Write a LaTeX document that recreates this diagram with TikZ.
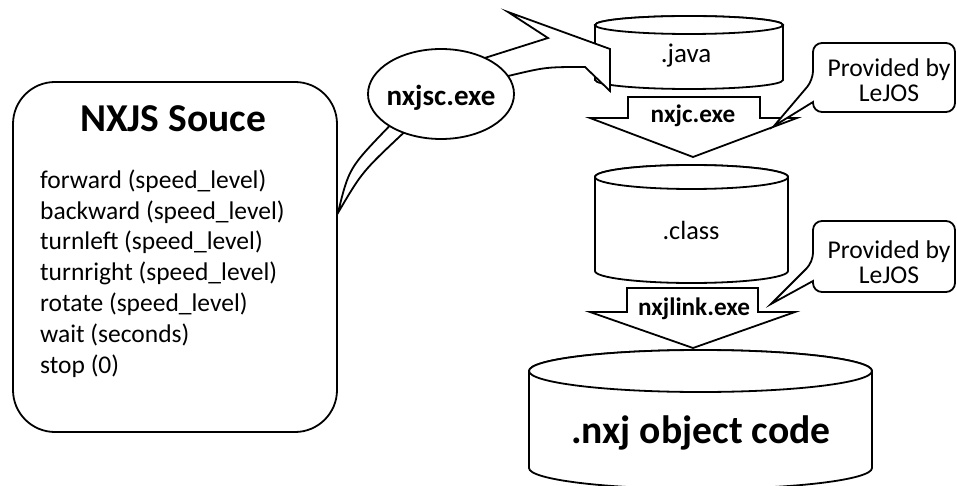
\documentclass[tikz,border=0pt]{standalone}
\usepackage{fontspec}
\setmainfont{Carlito}
\usetikzlibrary{shapes.geometric}
\pgfdeclarelayer{under}
\pgfsetlayers{under,main}

% cylinder: centre x, half width, top y, bottom y, rim radius
\newcommand\drum[5]{%
  \draw[outline] (#1-#2,#3) -- (#1-#2,#4)
    arc[start angle=180,end angle=360,x radius=#2pt,y radius=#5pt]
    -- (#1+#2,#3)
    arc[start angle=0,end angle=180,x radius=#2pt,y radius=#5pt] -- cycle;
  \draw[outline] (#1,#3) ellipse[x radius=#2pt,y radius=#5pt];}

\begin{document}
\begin{tikzpicture}[x=1pt,y=-1pt,
  outline/.style={draw=black,fill=white,line width=1.8pt,line join=miter},
  lbl/.style={inner sep=0pt,font=\fontsize{25.6}{30}\selectfont},
  tool/.style={inner sep=0pt,font=\fontsize{25.2}{29}\selectfont\bfseries},
  cmd/.style={inner sep=0pt,anchor=base west,font=\fontsize{25.5}{30}\selectfont}]
\useasboundingbox (0,0) rectangle (957,486);
\clip (0,0) rectangle (957,486);

% source program box
\node[outline,rounded corners=42pt,minimum width=324pt,minimum height=350pt,inner sep=0pt]
  (src) at (175,257) {};
\node[inner sep=0pt,anchor=base,font=\fontsize{39.5}{44}\selectfont\bfseries]
  (title) at (173,131.5) {NXJS Souce};
\foreach \t [count=\i from 0] in {forward (speed\_level),backward (speed\_level),
  turnleft (speed\_level),turnright (speed\_level),rotate (speed\_level),
  wait (seconds),stop (0)}
  \node[cmd] (cmd\i) at (40,188.3+30.8*\i) {\t};
\coordinate (fork) at ([yshift=44pt]src.east);

% translator
\node[outline,ellipse,minimum width=146pt,minimum height=90pt,inner sep=0pt]
  (nxjsc) at (441,94) {};
\node[tool,anchor=base,font=\fontsize{29}{32}\selectfont\bfseries] (nxjsclbl) at (441,106) {nxjsc.exe};

\begin{pgfonlayer}{under}
  \drum{689}{94}{25}{80}{9}
  % curved block arrow from the source into the java file
  \draw[outline] (fork) .. controls (349,168) .. (nxjsc.212)
    -- (nxjsc.39) -- (548,38) -- (508,12) -- (610,49) -- (610,91) -- (585,67)
    .. controls (546,67) .. (nxjsc.15)
    -- (nxjsc.226) .. controls (362,172) .. (fork) -- cycle;
\end{pgfonlayer}
\node[lbl,anchor=base,font=\fontsize{27}{30}\selectfont] (java) at (686,63) {.java};

% nxjc.exe step
\draw[outline] (628,97) -- (760,97) -- (760,118) -- (797,118) -- (693,157)
  -- (590,118) -- (628,118) -- cycle;
\node[tool,anchor=base] (nxjc) at (693,123) {nxjc.exe};

\drum{691.5}{96.5}{177}{271}{12}
\node[lbl,anchor=base,font=\fontsize{26.3}{30}\selectfont] (class) at (691,239) {.class};

% nxjlink.exe step
\draw[outline] (627,288) -- (758,288) -- (758,312) -- (795,312) -- (693,348)
  -- (590,312) -- (627,312) -- cycle;
\node[tool,anchor=base] (nxjlink) at (694,315) {nxjlink.exe};

\drum{700.5}{171.5}{371}{468}{21}
\node[inner sep=0pt,anchor=base,font=\fontsize{39.6}{44}\selectfont\bfseries]
  (nxj) at (701,443) {.nxj object code};

% LeJOS callouts
\draw[outline] (774,126) -- (813,102) [rounded corners=9pt] -- (813,112) -- (955,112)
  -- (955,43) -- (813,43) -- (813,80) [sharp corners] -- cycle;
\node[lbl,anchor=base] (prov1) at (889,77) {Provided by};
\node[lbl,anchor=base] (lejos1) at (889,102) {LeJOS};

\draw[outline] (771,304) -- (813,281) [rounded corners=9pt] -- (813,292) -- (955,292)
  -- (955,221) -- (813,221) -- (813,262) [sharp corners] -- cycle;
\node[lbl,anchor=base] (prov2) at (889,258) {Provided by};
\node[lbl,anchor=base] (lejos2) at (889,283) {LeJOS};
\end{tikzpicture}
\end{document}
